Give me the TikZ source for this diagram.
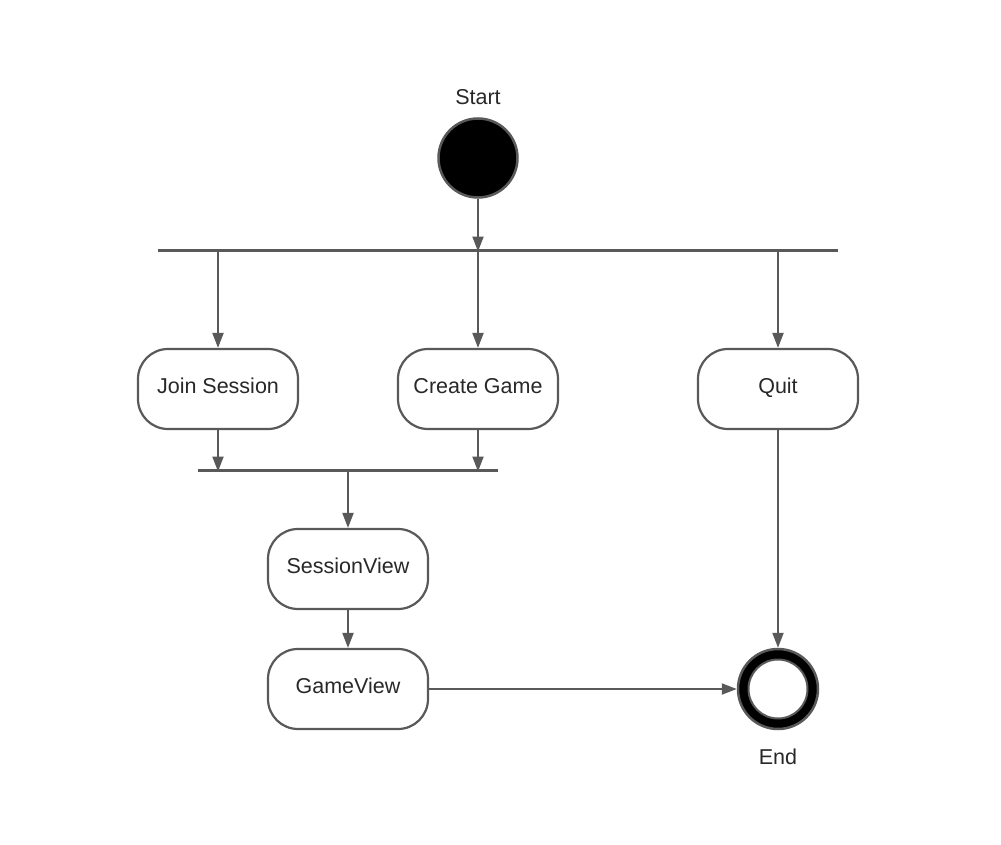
\documentclass[tikz,border=0pt]{standalone}
\usepackage{fontspec}
\setmainfont{Liberation Sans}
\usetikzlibrary{arrows.meta}
\definecolor{lc}{RGB}{89,89,89}
\definecolor{tc}{RGB}{40,40,40}
\begin{document}
\begin{tikzpicture}[x=1pt,y=-1pt,
  act/.style={draw=lc,line width=2.2pt,rounded corners=30pt,minimum width=160pt,minimum height=80pt,inner sep=0pt,fill=white,text=tc,font=\fontsize{21.5}{24}\selectfont,text height=15.5pt,text depth=6.1pt},
  bar/.style={draw=lc,line width=3pt},
  flow/.style={draw=lc,line width=2pt,-{Triangle[length=15pt,width=11pt]}},
  lbl/.style={text=tc,font=\fontsize{21.5}{24}\selectfont,inner sep=0pt}]
\useasboundingbox (0,0) rectangle (1001,845);
\fill[white] (0,0) rectangle (1001,845);
% start
\node[circle,draw=lc,line width=2.5pt,fill=black,minimum size=79pt,inner sep=0pt] (start) at (478,158) {};
\node[lbl] (startl) at (478,97) {Start};
% fork bar
\coordinate (f1l) at (158,250);
\coordinate (f1r) at (838,250);
\draw[bar] (f1l) -- (f1r);
\coordinate (f1a) at (218,250);
\coordinate (f1b) at (478,250);
\coordinate (f1c) at (778,250);
% activities
\node[act] (join) at (218,389) {Join Session};
\node[act] (create) at (478,389) {Create Game};
\node[act] (quit) at (778,389) {Quit};
\node[act] (sv) at (348,569) {SessionView};
\node[act] (gv) at (348,689) {GameView};
% join bar
\coordinate (f2l) at (198,470);
\coordinate (f2r) at (498,470);
\draw[bar] (f2l) -- (f2r);
\coordinate (f2a) at (218,470);
\coordinate (f2b) at (478,470);
\coordinate (f2c) at (348,470);
% end
\node[circle,draw=lc,line width=2.5pt,fill=black,minimum size=80pt,inner sep=0pt] (end) at (778,689) {};
\node[circle,draw=lc,line width=2pt,fill=white,minimum size=59pt,inner sep=0pt] (endin) at (778,689) {};
\node[lbl] (endl) at (778,757) {End};
% connectors
\draw[flow] (start.south) -- ([yshift=-1.5pt]f1b);
\draw[flow] (f1a) -- (join.north);
\draw[flow] (f1b) -- (create.north);
\draw[flow] (f1c) -- (quit.north);
\draw[flow] (join.south) -- ([yshift=-1.5pt]f2a);
\draw[flow] (create.south) -- ([yshift=-1.5pt]f2b);
\draw[flow] (f2c) -- (sv.north);
\draw[flow] (sv.south) -- (gv.north);
\draw[flow] (gv.east) -- (end.west);
\draw[flow] (quit.south) -- (end.north);
\end{tikzpicture}
\end{document}
